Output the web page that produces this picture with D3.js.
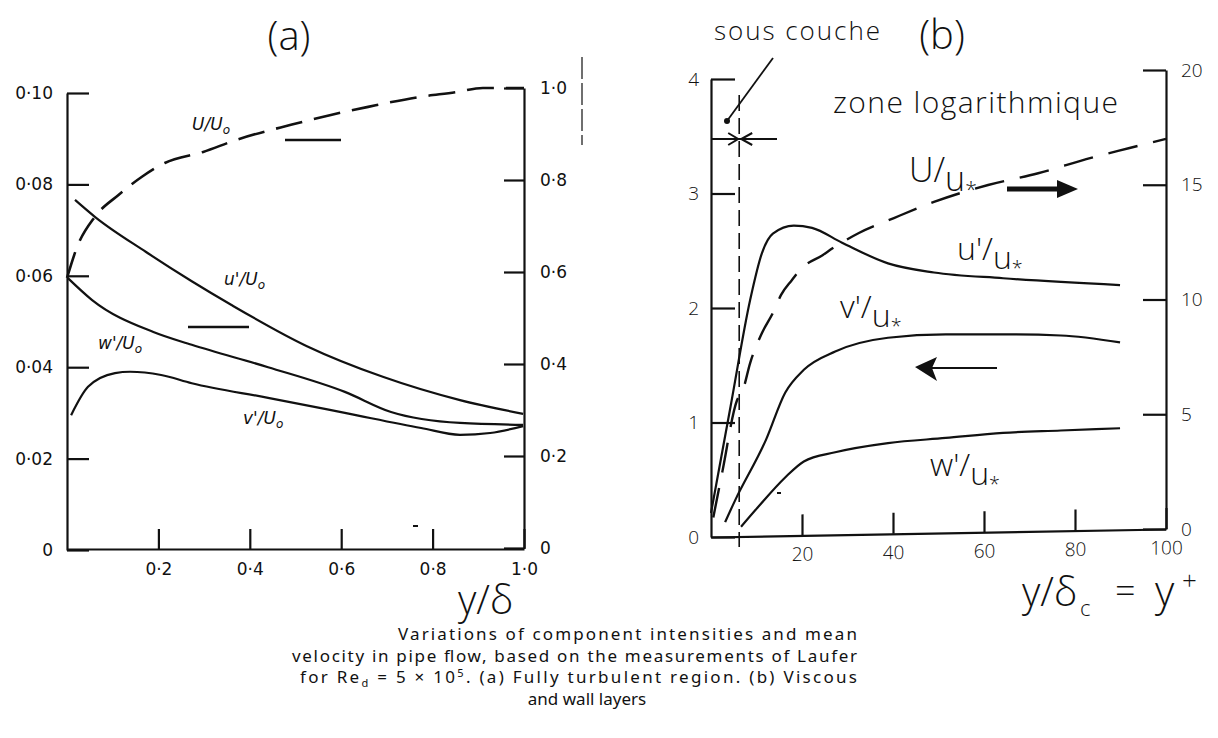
<!DOCTYPE html>
<html><head><meta charset="utf-8">
<script src="https://cdn.jsdelivr.net/npm/d3@7"></script>
<style>body{margin:0;background:#fff}</style>
</head><body>
<svg id="c" width="1218" height="738"></svg>
<script>
// ---------- Panel (a) : y/δ ----------
const aUMean  = [[0,0.587],[0.022,0.654],[0.061,0.72],[0.112,0.767],[0.164,0.807],[0.214,0.837],[0.298,0.861],[0.37,0.887],[0.49,0.92],[0.575,0.941],[0.659,0.959],[0.768,0.98],[0.851,0.991],[0.91,1.0],[1.0,1.0]];
const aUPrime = [[0.0175,0.0766],[0.061,0.0729],[0.173,0.0652],[0.273,0.0588],[0.36,0.0536],[0.525,0.0446],[0.691,0.0379],[0.86,0.0328],[0.998,0.0298]];
const aWPrime = [[0.002,0.0595],[0.055,0.0547],[0.189,0.0477],[0.273,0.0449],[0.44,0.040],[0.608,0.0346],[0.709,0.0302],[0.86,0.0278],[0.998,0.0274]];
const aVPrime = [[0.009,0.0295],[0.046,0.0357],[0.105,0.0387],[0.138,0.039],[0.206,0.0383],[0.273,0.0365],[0.44,0.0333],[0.608,0.030],[0.775,0.0267],[0.86,0.0252],[0.926,0.0256],[0.998,0.0271]];
const aLeftTicks  = [0,0.02,0.04,0.06,0.08,0.10];
const aLeftLabels = ["0","0·02","0·04","0·06","0·08","0·10"];
const aRightTicks  = [0,0.2,0.4,0.6,0.8,1.0];
const aRightLabels = ["0","0·2","0·4","0·6","0·8","1·0"];
const aXTicks  = [0.2,0.4,0.6,0.8,1.0];
const aXLabels = ["0·2","0·4","0·6","0·8","1·0"];

// ---------- Panel (b) : y+ ----------
const bUMean  = [[0.5,0.5],[2.5,2.5],[5.7,5.6],[7.0,6.05],[8.6,7.23],[11.2,8.54],[13.6,9.41],[15.4,10.2],[17.8,10.85],[19.6,11.3],[24.6,11.94],[26.8,12.24],[32.5,12.9],[40.2,13.55],[49,14.25],[60.9,14.99],[71.9,15.5],[83.5,16.17],[92,16.6],[100,17.0]];
const bUPrime = [[0,0.21],[4.3,1.14],[8.6,2.07],[11.2,2.48],[13.6,2.65],[18.2,2.72],[22.2,2.70],[28.8,2.57],[38.9,2.39],[49,2.31],[64.2,2.26],[89.9,2.20]];
const bVPrime = [[3.1,0.13],[5.3,0.32],[12.1,0.85],[16.3,1.26],[20.4,1.46],[27.3,1.62],[38.9,1.74],[51.6,1.77],[64.2,1.77],[76.9,1.76],[89.9,1.70]];
const bWPrime = [[6.6,0.09],[10.3,0.26],[16.3,0.52],[20.4,0.66],[27.3,0.74],[38.9,0.82],[51.6,0.865],[64.2,0.91],[76.9,0.93],[89.9,0.95]];
const bSublayer = 6.2;
const bLeftTicks  = [0,1,2,3,4];
const bRightTicks = [0,5,10,15,20];
const bXTicks     = [20,40,60,80,100];

const captionLines = [
  "Variations of component intensities and mean",
  "velocity in pipe flow, based on the measurements of Laufer",
  "and wall layers"
];

const svg = d3.select("#c");
const INK = "#111";
const HAND = "'Open Sans', 'DejaVu Sans', sans-serif";

// ---------- scales ----------
const xa  = d3.scaleLinear().domain([0,1]).range([67,524]);
const yLa = d3.scaleLinear().domain([0,0.1]).range([550,93]);
const yRa = d3.scaleLinear().domain([0,1]).range([548,88]);

const xb  = d3.scaleLinear().domain([0,100]).range([711,1166]);
const yLb = d3.scaleLinear().domain([0,4]).range([537,79]);
const yRb = d3.scaleLinear().domain([0,20]).range([529,70]);

function styleAxis(g, font, size, weight){
  g.selectAll("path.domain").attr("stroke",INK).attr("stroke-width",2.2);
  g.selectAll(".tick line").attr("stroke",INK).attr("stroke-width",2.2);
  g.selectAll(".tick text").attr("fill",INK).attr("font-family",font).attr("font-size",size).attr("font-weight",weight||400);
}

// ---------- Panel (a) axes ----------
const TICKF = "'DejaVu Sans', sans-serif";
svg.append("g").attr("transform",`translate(${xa(0)},0)`)
  .call(d3.axisLeft(yLa).tickValues(aLeftTicks).tickFormat((d,i)=>aLeftLabels[i]).tickSize(-22).tickSizeOuter(0).tickPadding(14))
  .call(g=>styleAxis(g,TICKF,17));
svg.append("g").attr("transform",`translate(${xa(1)},0)`)
  .call(d3.axisRight(yRa).tickValues(aRightTicks).tickFormat((d,i)=>aRightLabels[i]).tickSize(-20).tickSizeOuter(0).tickPadding(16))
  .call(g=>styleAxis(g,TICKF,17));
svg.append("g").attr("transform",`translate(0,${yLa(0)-1})`)
  .call(d3.axisBottom(xa).tickValues(aXTicks).tickFormat((d,i)=>aXLabels[i]).tickSize(-20).tickSizeOuter(0).tickPadding(14))
  .call(g=>styleAxis(g,TICKF,17));

// ---------- Panel (a) curves ----------
const la = (ys)=>d3.line().x(d=>xa(d[0])).y(d=>ys(d[1])).curve(d3.curveMonotoneX);
svg.append("path").attr("d",la(yRa)(aUMean)).attr("fill","none").attr("stroke",INK).attr("stroke-width",2.6).attr("stroke-dasharray","27,12");
[aUPrime,aWPrime,aVPrime].forEach(s=>{
  svg.append("path").attr("d",la(yLa)(s)).attr("fill","none").attr("stroke",INK).attr("stroke-width",2.2);
});

// panel (a) labels
function italLabel(x,y,main){
  const t = svg.append("text").attr("x",x).attr("y",y).attr("font-family","'DejaVu Sans', sans-serif")
    .attr("font-style","italic").attr("font-size",17).attr("fill",INK);
  t.append("tspan").text(main);
  t.append("tspan").attr("font-size",12).attr("dy",4).text("o");
}
italLabel(192,130,"U/U");
italLabel(224,285,"u'/U");
italLabel(98,349,"w'/U");
italLabel(243,424,"v'/U");
// small bars pointing to the axes
svg.append("line").attr("x1",285).attr("x2",341).attr("y1",140).attr("y2",140).attr("stroke",INK).attr("stroke-width",2.6);
svg.append("line").attr("x1",188).attr("x2",249).attr("y1",327).attr("y2",327).attr("stroke",INK).attr("stroke-width",2.6);
svg.append("line").attr("x1",413).attr("x2",418).attr("y1",526).attr("y2",526).attr("stroke",INK).attr("stroke-width",2);
svg.append("line").attr("x1",582).attr("x2",582).attr("y1",57).attr("y2",145).attr("stroke","#333").attr("stroke-width",1.4).attr("stroke-dasharray","22,4");

// titles
svg.append("text").attr("x",289).attr("y",50).attr("text-anchor","middle").attr("font-family",HAND).attr("font-weight",300).attr("font-size",40).attr("fill",INK).text("(a)");
svg.append("text").attr("x",942).attr("y",49).attr("text-anchor","middle").attr("font-family",HAND).attr("font-weight",300).attr("font-size",40).attr("fill",INK).text("(b)");

// axis title (a)
svg.append("text").attr("x",458).attr("y",614).attr("font-family",HAND).attr("font-weight",300).attr("font-size",40).attr("fill",INK).text("y/δ");

// ---------- Panel (b) axes ----------
svg.append("g").attr("transform",`translate(${xb(0)},0)`)
  .call(d3.axisLeft(yLb).tickValues(bLeftTicks).tickFormat(d3.format("d")).tickSize(-24).tickSizeOuter(0).tickPadding(12))
  .call(g=>styleAxis(g,HAND,19,300));
svg.append("g").attr("transform",`translate(${xb(100)},0)`)
  .call(d3.axisRight(yRb).tickValues(bRightTicks).tickFormat(d3.format("d")).tickSize(-23).tickSizeOuter(0).tickPadding(15))
  .call(g=>styleAxis(g,HAND,19,300));
const skew = Math.atan2(yRb(0)-yLb(0), xb(100)-xb(0))*180/Math.PI;
svg.append("g").attr("transform",`translate(${xb(0)},${yLb(0)}) skewY(${skew}) translate(${-xb(0)},0)`)
  .call(d3.axisBottom(xb).tickValues(bXTicks).tickFormat(d3.format("d")).tickSize(-21).tickSizeOuter(0).tickPadding(12))
  .call(g=>styleAxis(g,HAND,19,300));

// ---------- Panel (b) curves ----------
const lb = (ys)=>d3.line().x(d=>xb(d[0])).y(d=>ys(d[1])).curve(d3.curveMonotoneX);
svg.append("path").attr("d",lb(yRb)(bUMean)).attr("fill","none").attr("stroke",INK).attr("stroke-width",2.4).attr("stroke-dasharray","30,16");
[bUPrime,bVPrime,bWPrime].forEach(s=>{
  svg.append("path").attr("d",lb(yLb)(s)).attr("fill","none").attr("stroke",INK).attr("stroke-width",2.2);
});

// viscous sublayer marker
const xs = xb(bSublayer);
svg.append("line").attr("x1",xs).attr("x2",xs).attr("y1",95).attr("y2",547).attr("stroke",INK).attr("stroke-width",1.6).attr("stroke-dasharray","16,7");
svg.append("line").attr("x1",xb(0)).attr("x2",777).attr("y1",139).attr("y2",139).attr("stroke",INK).attr("stroke-width",1.8);
svg.append("path").attr("d",`M${xs-11},133 L${xs-1},139 L${xs-11},145`).attr("fill","none").attr("stroke",INK).attr("stroke-width",2);
svg.append("path").attr("d",`M${xs+13},133 L${xs+2},139 L${xs+13},145`).attr("fill","none").attr("stroke",INK).attr("stroke-width",2);
svg.append("line").attr("x1",773).attr("y1",58).attr("x2",727).attr("y2",121).attr("stroke",INK).attr("stroke-width",1.8);
svg.append("circle").attr("cx",727).attr("cy",121).attr("r",3).attr("fill",INK);
svg.append("text").attr("x",714).attr("y",40).attr("font-family",HAND).attr("font-weight",300).attr("font-size",26).attr("textLength",166).attr("fill",INK).text("sous couche");
svg.append("text").attr("x",833).attr("y",113).attr("font-family",HAND).attr("font-weight",300).attr("font-size",30).attr("textLength",285).attr("fill",INK).text("zone logarithmique");

// hand labels panel (b)
function handLabel(x,y,a,size){
  const t = svg.append("text").attr("x",x).attr("y",y).attr("font-family",HAND).attr("font-weight",300).attr("font-size",size).attr("fill",INK);
  t.append("tspan").text(a+"/");
  t.append("tspan").attr("dy",9).text("u");
  t.append("tspan").attr("dy",6).attr("font-size",size*0.62).text("*");
}
handLabel(909,182,"U",34);
handLabel(957,260,"u'",32);
handLabel(840,318,"v'",32);
handLabel(930,476,"w'",32);

// arrows
svg.append("line").attr("x1",1007).attr("x2",1062).attr("y1",189).attr("y2",189).attr("stroke",INK).attr("stroke-width",5);
svg.append("path").attr("d","M1057,180 L1078,189 L1057,198 Z").attr("fill",INK);
svg.append("line").attr("x1",997).attr("x2",928).attr("y1",368).attr("y2",368).attr("stroke",INK).attr("stroke-width",2);
svg.append("path").attr("d","M937,357 L915,367 L937,381 L932,368 Z").attr("fill",INK);
svg.append("line").attr("x1",777).attr("x2",781).attr("y1",493).attr("y2",493).attr("stroke",INK).attr("stroke-width",2);

// axis title (b)
svg.append("text").attr("x",1022).attr("y",606).attr("font-family",HAND).attr("font-weight",300).attr("font-size",40).attr("fill",INK).text("y/δ");
svg.append("text").attr("x",1080).attr("y",616).attr("font-family",HAND).attr("font-weight",300).attr("font-size",22).attr("fill",INK).text("c");
svg.append("text").attr("x",1115).attr("y",604).attr("font-family",HAND).attr("font-weight",300).attr("font-size",36).attr("fill",INK).text("=");
svg.append("text").attr("x",1155).attr("y",606).attr("font-family",HAND).attr("font-weight",300).attr("font-size",42).attr("fill",INK).text("y");
svg.append("text").attr("x",1182).attr("y",590).attr("font-family",HAND).attr("font-weight",300).attr("font-size",26).attr("fill",INK).text("+");

// ---------- caption ----------
const CAP = "'Noto Sans', sans-serif";
const CS = 17;
svg.append("text").attr("x",398).attr("y",640).attr("font-family",CAP).attr("font-size",CS).attr("textLength",459).attr("fill",INK).text(captionLines[0]);
svg.append("text").attr("x",292).attr("y",661.5).attr("font-family",CAP).attr("font-size",CS).attr("textLength",565).attr("fill",INK).text(captionLines[1]);
const c3 = svg.append("text").attr("x",300).attr("y",683).attr("font-family",CAP).attr("font-size",CS).attr("textLength",557).attr("fill",INK);
c3.append("tspan").text("for Re");
c3.append("tspan").attr("font-size",11).attr("dy",4).text("d");
c3.append("tspan").attr("dy",-4).text(" = 5 × 10");
c3.append("tspan").attr("font-size",11).attr("dy",-6).text("5");
c3.append("tspan").attr("dy",6).text(". (a) Fully turbulent region. (b) Viscous");
svg.append("text").attr("x",587).attr("y",704.5).attr("text-anchor","middle").attr("font-family",CAP).attr("font-size",CS).attr("fill",INK).text(captionLines[2]);
</script>
</body></html>
